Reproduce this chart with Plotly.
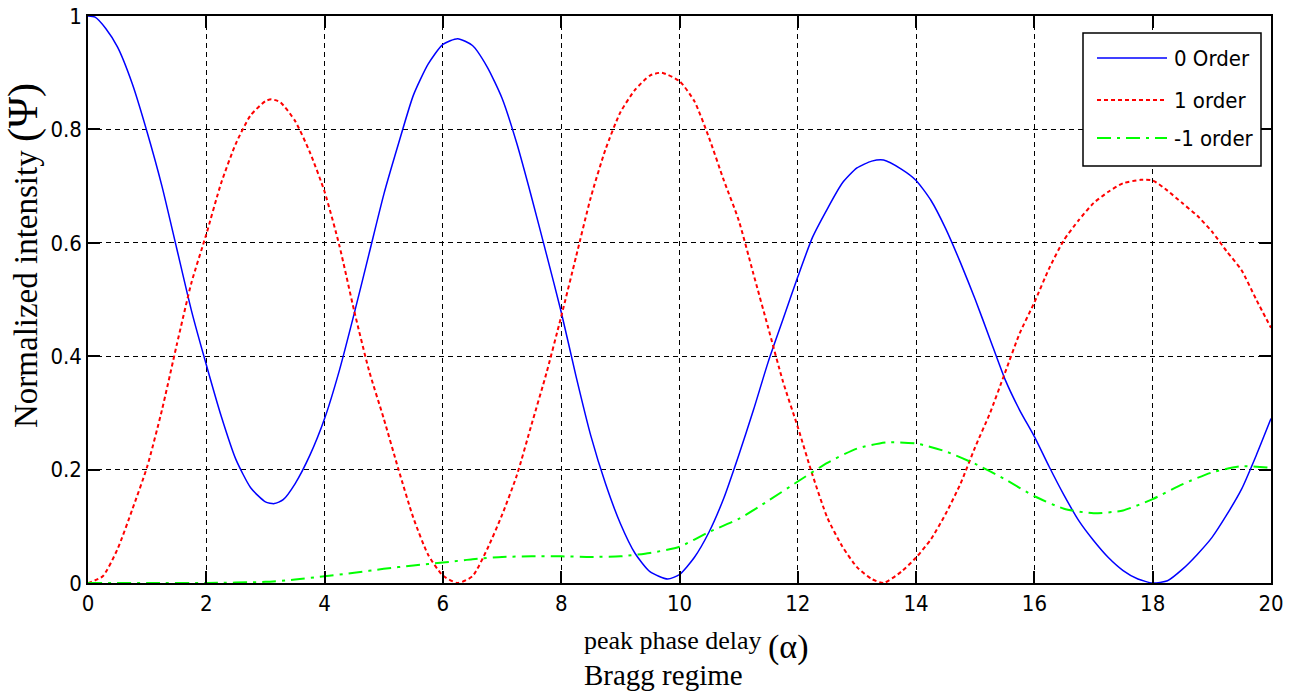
import plotly.graph_objects as go

# ---- data ----
x0 = [0, 0.12, 0.3, 0.5, 0.75, 1.0, 1.25, 1.5, 1.75, 2.0, 2.25, 2.5, 2.75, 3.0, 3.15, 3.3, 3.5, 3.75,
      4.0, 4.25, 4.5, 4.75, 5.0, 5.25, 5.5, 5.75, 6.0, 6.25, 6.5, 6.75, 7.0, 7.25, 7.5, 7.75, 8.0,
      8.25, 8.5, 8.75, 9.0, 9.25, 9.5, 9.8, 10.0, 10.25, 10.5, 10.75, 11.0, 11.25, 11.5, 11.75,
      12.0, 12.25, 12.5, 12.75, 13.0, 13.25, 13.45, 13.75, 14.0, 14.25, 14.5, 14.75, 15.0, 15.25,
      15.5, 15.75, 16.0, 16.25, 16.5, 16.75, 17.0, 17.25, 17.5, 17.75, 18.0, 18.25, 18.5, 18.75,
      19.0, 19.25, 19.5, 19.75, 20.0]
y0 = [1.0, 0.998, 0.978, 0.945, 0.88, 0.795, 0.70, 0.59, 0.48, 0.385, 0.295, 0.218, 0.168, 0.143, 0.14,
      0.147, 0.175, 0.225, 0.29, 0.375, 0.475, 0.58, 0.685, 0.775, 0.86, 0.915, 0.95, 0.96, 0.948,
      0.91, 0.855, 0.775, 0.68, 0.58, 0.478, 0.365, 0.26, 0.175, 0.105, 0.052, 0.02, 0.007, 0.015,
      0.045, 0.09, 0.15, 0.225, 0.305, 0.39, 0.465, 0.54, 0.61, 0.66, 0.705, 0.732, 0.744, 0.746,
      0.73, 0.71, 0.675, 0.625, 0.565, 0.5, 0.43, 0.36, 0.305, 0.258, 0.205, 0.155, 0.11, 0.075,
      0.045, 0.022, 0.007, 0.0, 0.004, 0.024, 0.05, 0.08, 0.12, 0.165, 0.225, 0.29]

x1 = [0, 0.25, 0.5, 0.75, 1.0, 1.25, 1.5, 1.75, 2.0, 2.25, 2.5, 2.75, 3.0, 3.1, 3.25, 3.5, 3.75,
      4.0, 4.25, 4.5, 4.75, 5.0, 5.25, 5.5, 5.75, 6.0, 6.25, 6.5, 6.75, 7.0, 7.25, 7.5, 7.75, 8.0,
      8.25, 8.5, 8.75, 9.0, 9.25, 9.5, 9.7, 10.0, 10.25, 10.5, 10.75, 11.0, 11.25, 11.5, 11.75,
      12.0, 12.25, 12.5, 12.75, 13.0, 13.25, 13.45, 13.75, 14.0, 14.25, 14.5, 14.75, 15.0, 15.25,
      15.5, 15.75, 16.0, 16.25, 16.5, 16.75, 17.0, 17.25, 17.5, 17.8, 18.0, 18.25, 18.5, 18.75,
      19.0, 19.25, 19.5, 19.75, 20.0]
y1 = [0, 0.012, 0.06, 0.13, 0.205, 0.305, 0.42, 0.53, 0.615, 0.705, 0.775, 0.825, 0.85, 0.853,
      0.848, 0.815, 0.76, 0.69, 0.595, 0.48, 0.375, 0.29, 0.2, 0.115, 0.05, 0.013, 0.0, 0.012, 0.06,
      0.12, 0.19, 0.28, 0.37, 0.47, 0.575, 0.68, 0.765, 0.83, 0.87, 0.895, 0.9, 0.885, 0.85, 0.785,
      0.71, 0.64, 0.545, 0.45, 0.355, 0.275, 0.19, 0.115, 0.065, 0.028, 0.007, 0.0, 0.02, 0.045,
      0.077, 0.122, 0.175, 0.24, 0.3, 0.37, 0.44, 0.495, 0.555, 0.605, 0.64, 0.67, 0.69, 0.705,
      0.711, 0.71, 0.692, 0.67, 0.648, 0.62, 0.585, 0.552, 0.5, 0.45]

xm1 = [0, 1, 2, 3, 3.5, 4, 4.5, 5, 5.5, 6, 6.5, 7, 7.5, 8, 8.5, 9, 9.5, 10, 10.5, 11, 11.5, 12,
       12.5, 13, 13.5, 14, 14.5, 15, 15.5, 16, 16.5, 17, 17.5, 18, 18.5, 19, 19.5, 20]
ym1 = [0, 0.0, 0.0, 0.002, 0.006, 0.012, 0.018, 0.025, 0.031, 0.036, 0.042, 0.046, 0.047, 0.047,
       0.046, 0.047, 0.053, 0.064, 0.09, 0.113, 0.145, 0.179, 0.212, 0.237, 0.248, 0.246, 0.232,
       0.21, 0.183, 0.153, 0.131, 0.123, 0.128, 0.148, 0.174, 0.195, 0.206, 0.203]

names = ["0 Order", "1 order", "-1 order"]
colors = ["#0000FF", "#FF0000", "#00FF00"]
dashes = ["solid", "4px,3px", "14px,6px,3px,6px"]
xticks = list(range(0, 21, 2))
yticks = [0, 0.2, 0.4, 0.6, 0.8, 1]
yticktext = ["0", "0.2", "0.4", "0.6", "0.8", "1"]

W, H = 1298, 695
L, R, T, B = 88, 1271, 16, 583
def px(x): return (x - L) / (R - L)
def py(y): return (B - y) / (B - T)

TICKFONT = dict(family="Liberation Sans Narrow, DejaVu Sans Condensed, Liberation Sans, Arial, sans-serif",
                size=22, color="black")
SERIF = "Liberation Serif, Times New Roman, DejaVu Serif, serif"

fig = go.Figure()
for xs, ys, nm, c, d in zip([x0, x1, xm1], [y0, y1, ym1], names, colors, dashes):
    fig.add_trace(go.Scatter(x=xs, y=ys, name=nm, mode="lines",
                             line=dict(color=c, width=1.5 if d == "solid" else 2, dash=d,
                                       shape="spline", smoothing=0.6),
                             showlegend=False))

axis_common = dict(showline=True, linecolor="black", linewidth=1.5, mirror="ticks",
                   ticks="inside", ticklen=12, tickwidth=1.5, tickcolor="black",
                   showgrid=True, gridcolor="black", gridwidth=1.3, griddash="5px,4px",
                   zeroline=False, tickfont=TICKFONT, automargin=False)
fig.update_xaxes(range=[0, 20], tickvals=xticks, ticktext=[str(v) for v in xticks], **axis_common)
fig.update_yaxes(range=[0, 1], tickvals=yticks, ticktext=yticktext, **axis_common)

shapes = [dict(type="rect", xref="paper", yref="paper", x0=px(1083), x1=px(1261), y0=py(166), y1=py(33),
               fillcolor="white", line=dict(color="black", width=1.5), layer="above")]
annotations = []
for nm, c, d, yy in zip(names, colors, dashes, [58, 100, 138]):
    shapes.append(dict(type="line", xref="paper", yref="paper", x0=px(1097), x1=px(1167),
                       y0=py(yy), y1=py(yy), line=dict(color=c, width=1.5 if d == "solid" else 2, dash=d),
                       layer="above"))
    annotations.append(dict(text=nm, xref="paper", yref="paper", x=px(1172), y=py(yy),
                            xanchor="left", yanchor="middle", showarrow=False, font=TICKFONT))

annotations.append(dict(text="peak phase delay", xref="paper", yref="paper", x=px(582), y=py(641),
                        xanchor="left", yanchor="middle", showarrow=False,
                        font=dict(family=SERIF, size=26, color="black")))
annotations.append(dict(text="(α)", xref="paper", yref="paper", x=px(766), y=py(647),
                        xanchor="left", yanchor="middle", showarrow=False,
                        font=dict(family=SERIF, size=34, color="black")))
annotations.append(dict(text="Bragg regime", xref="paper", yref="paper", x=px(582), y=py(675),
                        xanchor="left", yanchor="middle", showarrow=False,
                        font=dict(family=SERIF, size=29, color="black")))
annotations.append(dict(text="Normalized intensity <span style='font-size:42px'>(Ψ)</span>",
                        xref="paper", yref="paper", x=px(23), y=py(256), xanchor="center", yanchor="middle",
                        textangle=-90, showarrow=False, font=dict(family=SERIF, size=33, color="black")))

fig.update_layout(width=W, height=H, margin=dict(l=L, r=W - R, t=T, b=H - B, pad=0),
                  plot_bgcolor="white", paper_bgcolor="white", shapes=shapes, annotations=annotations,
                  showlegend=False)
fig.write_html("out.html", config={"displayModeBar": False},
               post_script="document.body.style.margin='0';document.body.style.overflow='hidden';")
